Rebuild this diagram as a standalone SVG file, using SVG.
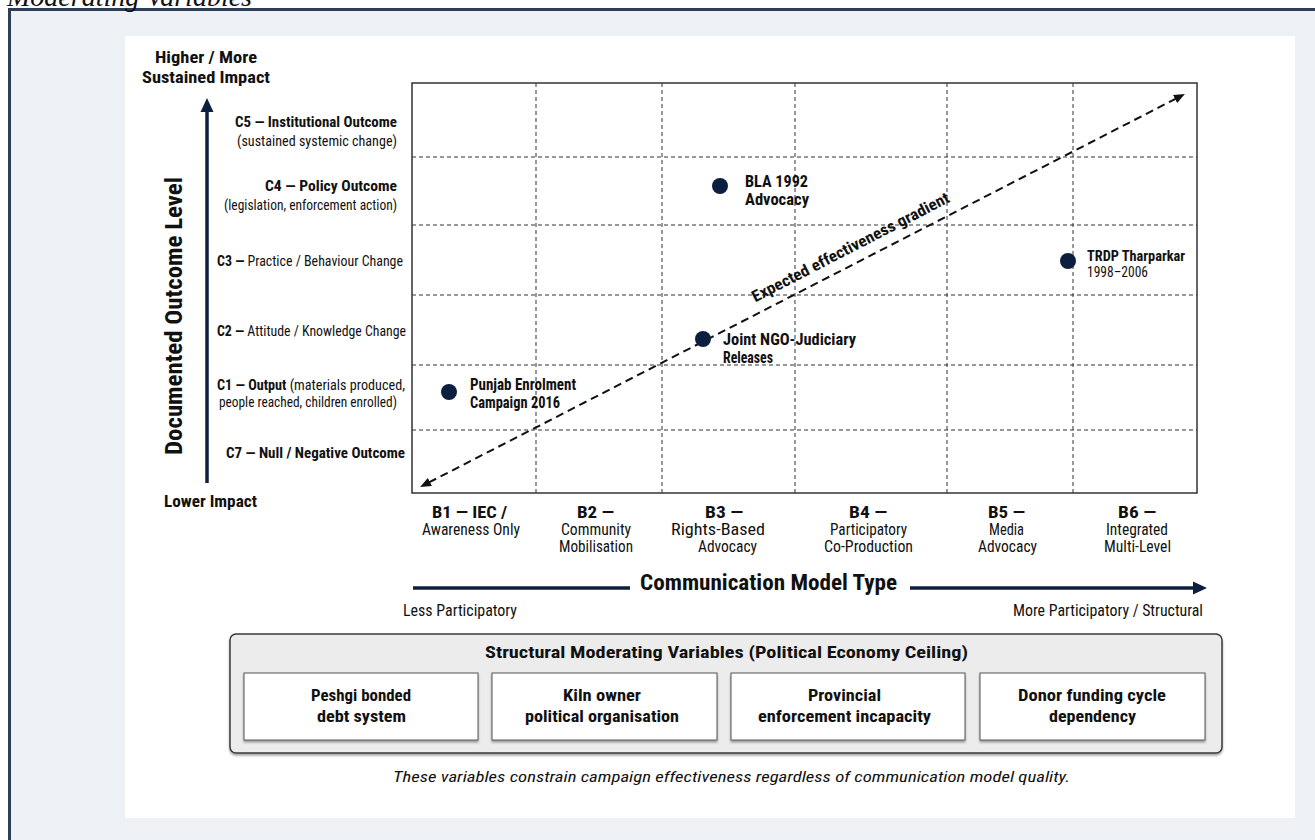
<svg xmlns="http://www.w3.org/2000/svg" width="1315" height="840" viewBox="0 0 1315 840">
  <style>
    .t { font-family: "Liberation Sans Narrow", "Arial Narrow", "Roboto Condensed", "Liberation Sans", sans-serif; fill: #111; }
    .b { font-weight: bold; }
    .n { font-weight: normal; }
    .s14 { font-size: 15px; }
    .s15 { font-size: 16px; }
    .grid { stroke: #333; stroke-width: 1; stroke-dasharray: 4 3; fill: none; }
    .dot { fill: #0c1f3f; }
    .axis { stroke: #0c1f3f; stroke-width: 3.5; fill: none; }
    .card { fill: #fff; stroke: #555; stroke-width: 1; }
  </style>
  <defs>
    <marker id="navyHead" markerUnits="userSpaceOnUse" markerWidth="14" markerHeight="14" refX="1" refY="7" orient="auto">
      <path d="M0,0.5 L14,7 L0,13.5 z" fill="#0c1f3f"/>
    </marker>
    <marker id="blackHead" markerUnits="userSpaceOnUse" markerWidth="11" markerHeight="9" refX="1" refY="4.5" orient="auto-start-reverse">
      <path d="M0,0 L11,4.5 L0,9 z" fill="#111"/>
    </marker>
    <filter id="shadow" x="-5%" y="-5%" width="110%" height="120%">
      <feDropShadow dx="0" dy="2" stdDeviation="1" flood-color="#000" flood-opacity="0.35"/>
    </filter>
  </defs>

  <!-- page background, frame and caption heading -->
  <rect x="0" y="0" width="1315" height="840" fill="#ffffff"/>
  <rect x="9.5" y="9.5" width="1310" height="840" fill="#edf0f5" stroke="#2d3e56" stroke-width="3"/>
  <text x="7" y="6" font-family="'Liberation Serif', serif" font-style="italic" font-size="28" fill="#111">Moderating Variables</text>
  <rect x="125" y="36" width="1170" height="782" fill="#ffffff"/>

  <!-- plot area -->
  <g id="plot">
    <rect x="412" y="83" width="785" height="410" fill="#fff"/>
    <g class="grid">
      <line x1="536" y1="83" x2="536" y2="493"/>
      <line x1="662" y1="83" x2="662" y2="493"/>
      <line x1="795" y1="83" x2="795" y2="493"/>
      <line x1="947" y1="83" x2="947" y2="493"/>
      <line x1="1073" y1="83" x2="1073" y2="493"/>
      <line x1="412" y1="157" x2="1197" y2="157"/>
      <line x1="412" y1="225" x2="1197" y2="225"/>
      <line x1="412" y1="295" x2="1197" y2="295"/>
      <line x1="412" y1="365" x2="1197" y2="365"/>
      <line x1="412" y1="430" x2="1197" y2="430"/>
    </g>
    <rect x="412" y="83" width="785" height="410" fill="none" stroke="#333" stroke-width="1.5"/>
  </g>

  <!-- vertical axis -->
  <g id="y-axis">
    <text class="t b" font-size="17" x="155" y="63" textLength="102" lengthAdjust="spacingAndGlyphs">Higher / More</text>
    <text class="t b" font-size="17" x="142" y="83" textLength="128" lengthAdjust="spacingAndGlyphs">Sustained Impact</text>
    <text class="t b" font-size="23" x="182" y="316" text-anchor="middle" transform="rotate(-90 182 316)" textLength="278" lengthAdjust="spacingAndGlyphs">Documented Outcome Level</text>
    <text class="t b" font-size="16" x="164" y="507" textLength="93" lengthAdjust="spacingAndGlyphs">Lower Impact</text>
  </g>

  <g id="level-c5">
    <text class="t b s14" x="235" y="127" textLength="162" lengthAdjust="spacingAndGlyphs">C5 — Institutional Outcome</text>
    <text class="t n s14" x="237" y="146" textLength="160" lengthAdjust="spacingAndGlyphs">(sustained systemic change)</text>
  </g>
  <g id="level-c4">
    <text class="t b s14" x="265" y="191" textLength="132" lengthAdjust="spacingAndGlyphs">C4 — Policy Outcome</text>
    <text class="t n s14" x="224" y="210" textLength="173" lengthAdjust="spacingAndGlyphs">(legislation, enforcement action)</text>
  </g>
  <g id="level-c3">
    <text class="t s14" x="217" y="266" textLength="186" lengthAdjust="spacingAndGlyphs"><tspan class="b">C3 —</tspan> Practice / Behaviour Change</text>
  </g>
  <g id="level-c2">
    <text class="t s14" x="217" y="336" textLength="189" lengthAdjust="spacingAndGlyphs"><tspan class="b">C2 —</tspan> Attitude / Knowledge Change</text>
  </g>
  <g id="level-c1">
    <text class="t s14" x="217" y="390" textLength="188" lengthAdjust="spacingAndGlyphs"><tspan class="b">C1 — Output</tspan> (materials produced,</text>
    <text class="t n s14" x="219" y="407" textLength="178" lengthAdjust="spacingAndGlyphs">people reached, children enrolled)</text>
  </g>
  <g id="level-c7">
    <text class="t b s14" x="226" y="458" textLength="179" lengthAdjust="spacingAndGlyphs">C7 — Null / Negative Outcome</text>
  </g>

  <!-- connectors: axis arrows and the gradient line -->
  <g id="connectors">
    <line class="axis" x1="207" y1="483" x2="207" y2="111" marker-end="url(#navyHead)"/>
    <line class="axis" x1="413" y1="588" x2="630" y2="588"/>
    <line class="axis" x1="910" y1="588" x2="1194" y2="588" marker-end="url(#navyHead)"/>
    <line x1="429" y1="482.4" x2="1176" y2="98.6" stroke="#111" stroke-width="2" stroke-dasharray="8 5" marker-start="url(#blackHead)" marker-end="url(#blackHead)"/>
    <text class="t b" font-size="16" x="853" y="252" text-anchor="middle" transform="rotate(-27.3 853 252)" textLength="220" lengthAdjust="spacingAndGlyphs">Expected effectiveness gradient</text>
  </g>

  <!-- campaign points -->
  <g id="point-bla">
    <circle class="dot" cx="720" cy="186" r="8"/>
    <text class="t b" font-size="17" x="745" y="187" textLength="63" lengthAdjust="spacingAndGlyphs">BLA 1992</text>
    <text class="t b" font-size="17" x="745" y="205" textLength="64" lengthAdjust="spacingAndGlyphs">Advocacy</text>
  </g>
  <g id="point-trdp">
    <circle class="dot" cx="1068" cy="261" r="8"/>
    <text class="t b s14" x="1087" y="261" textLength="98" lengthAdjust="spacingAndGlyphs">TRDP Tharparkar</text>
    <text class="t n s14" x="1087" y="277" textLength="61" lengthAdjust="spacingAndGlyphs">1998–2006</text>
  </g>
  <g id="point-joint">
    <circle class="dot" cx="703" cy="339" r="8"/>
    <text class="t b" font-size="16" x="723" y="345" textLength="133" lengthAdjust="spacingAndGlyphs">Joint NGO-Judiciary</text>
    <text class="t b" font-size="16" x="723" y="363" textLength="50" lengthAdjust="spacingAndGlyphs">Releases</text>
  </g>
  <g id="point-punjab">
    <circle class="dot" cx="449" cy="392" r="8"/>
    <text class="t b" font-size="16" x="470" y="390" textLength="106" lengthAdjust="spacingAndGlyphs">Punjab Enrolment</text>
    <text class="t b" font-size="16" x="470" y="408" textLength="90" lengthAdjust="spacingAndGlyphs">Campaign 2016</text>
  </g>

  <!-- horizontal axis categories -->
  <g id="model-b1">
    <text class="t b s15" x="432" y="518" textLength="75" lengthAdjust="spacingAndGlyphs">B1 — IEC /</text>
    <text class="t n s15" x="422" y="535" textLength="98" lengthAdjust="spacingAndGlyphs">Awareness Only</text>
  </g>
  <g id="model-b2">
    <text class="t b s15" x="577" y="518" textLength="37" lengthAdjust="spacingAndGlyphs">B2 —</text>
    <text class="t n s15" x="561" y="535" textLength="70" lengthAdjust="spacingAndGlyphs">Community</text>
    <text class="t n s15" x="559" y="552" textLength="74" lengthAdjust="spacingAndGlyphs">Mobilisation</text>
  </g>
  <g id="model-b3">
    <text class="t b s15" x="705" y="518" textLength="38" lengthAdjust="spacingAndGlyphs">B3 —</text>
    <text class="t n s15" x="671" y="535" textLength="94" lengthAdjust="spacingAndGlyphs">Rights-Based</text>
    <text class="t n s15" x="698" y="552" textLength="59" lengthAdjust="spacingAndGlyphs">Advocacy</text>
  </g>
  <g id="model-b4">
    <text class="t b s15" x="849" y="518" textLength="38" lengthAdjust="spacingAndGlyphs">B4 —</text>
    <text class="t n s15" x="830" y="535" textLength="77" lengthAdjust="spacingAndGlyphs">Participatory</text>
    <text class="t n s15" x="824" y="552" textLength="89" lengthAdjust="spacingAndGlyphs">Co-Production</text>
  </g>
  <g id="model-b5">
    <text class="t b s15" x="988" y="518" textLength="37" lengthAdjust="spacingAndGlyphs">B5 —</text>
    <text class="t n s15" x="989" y="535" textLength="35" lengthAdjust="spacingAndGlyphs">Media</text>
    <text class="t n s15" x="978" y="552" textLength="59" lengthAdjust="spacingAndGlyphs">Advocacy</text>
  </g>
  <g id="model-b6">
    <text class="t b s15" x="1118" y="518" textLength="38" lengthAdjust="spacingAndGlyphs">B6 —</text>
    <text class="t n s15" x="1106" y="535" textLength="62" lengthAdjust="spacingAndGlyphs">Integrated</text>
    <text class="t n s15" x="1104" y="552" textLength="67" lengthAdjust="spacingAndGlyphs">Multi-Level</text>
  </g>

  <g id="x-axis-title">
    <text class="t b" font-size="22" x="640" y="590" textLength="257" lengthAdjust="spacingAndGlyphs">Communication Model Type</text>
    <text class="t n s15" x="403" y="616" textLength="114" lengthAdjust="spacingAndGlyphs">Less Participatory</text>
    <text class="t n s15" x="1013" y="616" textLength="190" lengthAdjust="spacingAndGlyphs">More Participatory / Structural</text>
  </g>

  <!-- structural moderators panel -->
  <g id="moderators">
    <rect x="230" y="634" width="992" height="119" rx="6" fill="#ececec" stroke="#3a3a3a" stroke-width="1.5" filter="url(#shadow)"/>
    <text class="t b" font-size="17" x="485" y="658" textLength="483" lengthAdjust="spacingAndGlyphs">Structural Moderating Variables (Political Economy Ceiling)</text>
  </g>
  <g id="mod-peshgi">
    <rect class="card" x="244" y="673" width="234" height="67" filter="url(#shadow)"/>
    <text class="t b" font-size="17" x="311" y="701" textLength="100" lengthAdjust="spacingAndGlyphs">Peshgi bonded</text>
    <text class="t b" font-size="17" x="317" y="722" textLength="89" lengthAdjust="spacingAndGlyphs">debt system</text>
  </g>
  <g id="mod-kiln">
    <rect class="card" x="492" y="673" width="225" height="67" filter="url(#shadow)"/>
    <text class="t b" font-size="17" x="563" y="701" textLength="78" lengthAdjust="spacingAndGlyphs">Kiln owner</text>
    <text class="t b" font-size="17" x="525" y="722" textLength="154" lengthAdjust="spacingAndGlyphs">political organisation</text>
  </g>
  <g id="mod-provincial">
    <rect class="card" x="731" y="673" width="234" height="67" filter="url(#shadow)"/>
    <text class="t b" font-size="17" x="808" y="701" textLength="73" lengthAdjust="spacingAndGlyphs">Provincial</text>
    <text class="t b" font-size="17" x="758" y="722" textLength="173" lengthAdjust="spacingAndGlyphs">enforcement incapacity</text>
  </g>
  <g id="mod-donor">
    <rect class="card" x="980" y="673" width="225" height="67" filter="url(#shadow)"/>
    <text class="t b" font-size="17" x="1018" y="701" textLength="148" lengthAdjust="spacingAndGlyphs">Donor funding cycle</text>
    <text class="t b" font-size="17" x="1049" y="722" textLength="87" lengthAdjust="spacingAndGlyphs">dependency</text>
  </g>

  <text class="t" font-size="15" font-style="italic" x="393" y="782" fill="#222" textLength="677" lengthAdjust="spacingAndGlyphs">These variables constrain campaign effectiveness regardless of communication model quality.</text>
</svg>
